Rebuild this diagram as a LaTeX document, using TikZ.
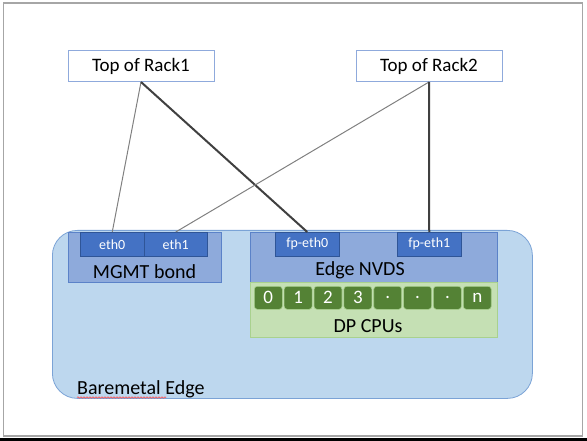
\documentclass[tikz,border=0pt]{standalone}
\usepackage{fontspec}
\setmainfont{Carlito}
\usetikzlibrary{decorations.pathmorphing}
\definecolor{rackline}{HTML}{8FAADC}
\definecolor{edgefill}{HTML}{BDD7EE}
\definecolor{edgeline}{HTML}{7BA3D6}
\definecolor{bondfill}{HTML}{8EAADB}
\definecolor{bondline}{HTML}{5B82C8}
\definecolor{portfill}{HTML}{4472C4}
\definecolor{portline}{HTML}{2F5597}
\definecolor{cpufill}{HTML}{C5E0B4}
\definecolor{cpuline}{HTML}{A9D18E}
\definecolor{corefill}{HTML}{548235}
\definecolor{framegray}{HTML}{A6A6A6}
\tikzset{
  rack/.style={draw=rackline,line width=1pt,fill=white,minimum width=146pt,minimum height=31pt,inner sep=0pt,font=\fontsize{19}{22}\selectfont},
  edgebox/.style={draw=edgeline,line width=0.8pt,fill=edgefill,rounded corners=25pt,anchor=north west,inner sep=0pt},
  bond/.style={draw=bondline,line width=0.6pt,fill=bondfill,anchor=north west,inner sep=0pt},
  port/.style={draw=portline,line width=0.5pt,fill=portfill,anchor=north west,inner sep=0pt,minimum height=24pt,text=white,font=\fontsize{14}{16}\selectfont},
  cpubox/.style={draw=cpuline,line width=0.8pt,fill=cpufill,anchor=north west,inner sep=0pt},
  core/.style={draw=cpuline,line width=0.6pt,fill=corefill,rounded corners=3pt,anchor=north west,inner sep=0pt,minimum width=28pt,minimum height=23pt,text=white,font=\fontsize{19}{22}\selectfont},
  bigtext/.style={inner sep=0pt,font=\fontsize{20}{24}\selectfont},
  thinlink/.style={draw=gray,line width=1pt},
  thicklink/.style={draw=black!75,line width=2pt}
}
\begin{document}
\begin{tikzpicture}[x=1pt,y=-1pt]
\useasboundingbox (0,0) rectangle (587,441);
% page frame
\draw[framegray,line width=1.5pt] (3.5,3) rectangle (582.5,436);
\draw[black,line width=2.5pt] (0,439.5) -- (587,439.5);

% switches
\node[rack] at (141,66) (Rack1) {Top of Rack1};
\node[rack] at (429,66) (Rack2) {Top of Rack2};

% edge node
\node[edgebox,minimum width=480pt,minimum height=168pt] at (52,230) (Edge) {};
\node[bigtext,anchor=west] at (77,389) (EdgeLbl) {Baremetal Edge};
\draw[red!70,line width=0.6pt,decorate,decoration={snake,amplitude=0.7pt,segment length=3pt}] (77,397.5) -- (166,397.5);

% management bond
\node[bond,minimum width=153pt,minimum height=50pt] at (68,232) (MGMT) {};
\node[bigtext] at (144.5,272) (MGMTLbl) {MGMT bond};
\node[port,minimum width=64pt] at (80,232) (eth0) {eth0};
\node[port,minimum width=63pt] at (144,232) (eth1) {eth1};

% NVDS
\node[bond,minimum width=247pt,minimum height=50pt] at (250,232) (NVDS) {};
\node[bigtext] at (360,270) (NVDSLbl) {Edge NVDS};
\node[port,minimum width=64pt] at (275,232) (fpeth0) {fp-eth0};
\node[port,minimum width=64pt] at (397,232) (fpeth1) {fp-eth1};

% datapath cpus
\node[cpubox,minimum width=247pt,minimum height=55pt] at (250,282) (DP) {};
\node[bigtext] at (368,326) (DPLbl) {DP CPUs};
\foreach \c [count=\i from 0] in {0,1,2,3,.,.,.,n}
  \node[core] at (254+\i*29.85,286) (core\i) {\c};

% uplinks
\draw[thinlink] (Rack1.south) -- (eth0.north);
\draw[thicklink] (Rack1.south) -- (fpeth0.north);
\draw[thinlink] (Rack2.south) -- (eth1.north);
\draw[thicklink] (Rack2.south) -- (fpeth1.north);
\end{tikzpicture}
\end{document}
